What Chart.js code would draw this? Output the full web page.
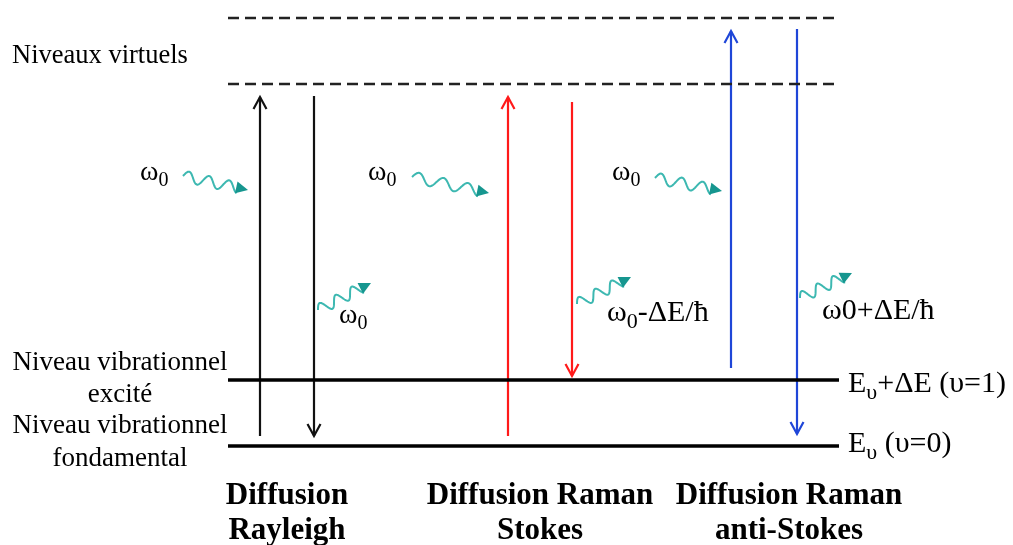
<!DOCTYPE html>
<html>
<head>
<meta charset="utf-8">
<script src="https://cdn.jsdelivr.net/npm/chart.js@4/dist/chart.umd.min.js"></script>
<style>
  html, body { margin: 0; padding: 0; background: #fff; }
  #wrap { width: 1013px; height: 545px; position: relative; }
</style>
</head>
<body>
<div id="wrap"><canvas id="ramanChart"></canvas></div>
<script>
// energy levels (y in diagram units, 0 at top)
const virtualLevels = [18, 84];
const vibLevels = [380, 446];
const levelSpan = [228, 839];

// vertical transitions
const transitionX = [260, 314, 508, 572, 731, 797];
const transitionFrom = [436, 96, 436, 102, 368, 29];
const transitionTo = [97, 436, 97, 376, 31, 434];
const transitionColors = ['#111', '#111', '#ff1a1a', '#ff1a1a', '#1f46d8', '#1f46d8'];

// photons (wavy arrows)
const photonStart = [[183, 176], [318, 310], [412, 177], [577, 304], [655, 178], [800, 298]];
const photonEnd = [[248, 190], [371, 283], [489, 193], [631, 277], [722, 191], [852, 273]];
const photonLabels = ['ω_0', 'ω_0', 'ω_0', 'ω_0-ΔE/ħ', 'ω_0', 'ω0+ΔE/ħ'];
const photonLabelPos = [[140, 180], [339, 323], [368, 180], [607, 321], [612, 180], [822, 319]];

// text labels
const levelLabels = ['E_υ+ΔE (υ=1)', 'E_υ (υ=0)'];
const leftLabels = ['Niveau vibrationnel', 'excité', 'Niveau vibrationnel', 'fondamental'];
const leftLabelY = [370, 402, 433, 466];
const processNames = [['Diffusion', 'Rayleigh'], ['Diffusion Raman', 'Stokes'], ['Diffusion Raman', 'anti-Stokes']];
const processX = [287, 540, 789];

const serif = "'Liberation Serif', 'Times New Roman', serif";
const waveColor = '#3db8b1';
const waveHeadColor = '#16968f';

function drawRich(ctx, str, x, y, size, align) {
    // '_' makes the next character a subscript
    const parts = [];
    for (let i = 0; i < str.length; i++) {
        if (str[i] === '_') { parts.push({ t: str[i + 1], sub: true }); i++; }
        else parts.push({ t: str[i], sub: false });
    }
    const fontFor = p => (p.sub ? Math.round(size * 0.72) : size) + 'px ' + serif;
    let total = 0;
    parts.forEach(p => { ctx.font = fontFor(p); total += ctx.measureText(p.t).width; });
    let cx = align === 'center' ? x - total / 2 : x;
    ctx.textAlign = 'left';
    ctx.textBaseline = 'alphabetic';
    parts.forEach(p => {
        ctx.font = fontFor(p);
        ctx.fillText(p.t, cx, p.sub ? y + size * 0.22 : y);
        cx += ctx.measureText(p.t).width;
    });
}

function drawWave(ctx, a, b) {
    const dx = b.x - a.x, dy = b.y - a.y;
    const len = Math.hypot(dx, dy);
    const ux = dx / len, uy = dy / len;
    const nx = -uy, ny = ux;
    const head = 12;
    const body = len - head + 2;
    ctx.save();
    ctx.strokeStyle = waveColor;
    ctx.lineWidth = 2;
    ctx.lineJoin = 'round';
    ctx.beginPath();
    for (let s = 0; s <= body; s += 0.5) {
        const off = -5.5 * Math.sin(s / body * 2.75 * 2 * Math.PI);
        const px = a.x + ux * s + nx * off;
        const py = a.y + uy * s + ny * off;
        if (s === 0) ctx.moveTo(px, py); else ctx.lineTo(px, py);
    }
    ctx.stroke();
    const bx = b.x - ux * head, by = b.y - uy * head;
    ctx.fillStyle = waveHeadColor;
    ctx.beginPath();
    ctx.moveTo(b.x, b.y);
    ctx.lineTo(bx + nx * 6, by + ny * 6);
    ctx.lineTo(bx - nx * 6, by - ny * 6);
    ctx.closePath();
    ctx.fill();
    ctx.restore();
}

const diagramPlugin = {
    id: 'diagram',
    afterDatasetsDraw(chart) {
        const ctx = chart.ctx;
        const xs = chart.scales.x, ys = chart.scales.y;
        const pt = p => ({ x: xs.getPixelForValue(p[0]), y: ys.getPixelForValue(p[1]) });

        // arrow heads on transitions
        chart.data.datasets.forEach((ds, i) => {
            if (!ds.arrow) return;
            const pts = chart.getDatasetMeta(i).data;
            const a = pts[0], b = pts[pts.length - 1];
            const len = Math.hypot(b.x - a.x, b.y - a.y);
            const ux = (b.x - a.x) / len, uy = (b.y - a.y) / len;
            ctx.save();
            ctx.strokeStyle = ds.borderColor;
            ctx.lineWidth = 2.2;
            ctx.beginPath();
            ctx.moveTo(b.x - ux * 12 - uy * 6.5, b.y - uy * 12 + ux * 6.5);
            ctx.lineTo(b.x, b.y);
            ctx.lineTo(b.x - ux * 12 + uy * 6.5, b.y - uy * 12 - ux * 6.5);
            ctx.stroke();
            ctx.restore();
        });

        // photons
        photonStart.forEach((s, i) => drawWave(ctx, pt(s), pt(photonEnd[i])));

        ctx.save();
        ctx.fillStyle = '#000';
        photonLabels.forEach((t, i) => {
            const p = pt(photonLabelPos[i]);
            drawRich(ctx, t, p.x, p.y, t.length > 3 ? 30 : 28, 'left');
        });

        // level labels
        vibLevels.forEach((lv, i) => {
            drawRich(ctx, levelLabels[i], xs.getPixelForValue(levelSpan[1] + 9), ys.getPixelForValue(lv + [12, 6][i]), 30, 'left');
        });
        drawRich(ctx, 'Niveaux virtuels', xs.getPixelForValue(12), ys.getPixelForValue(63), 26.5, 'left');
        leftLabels.forEach((t, i) => {
            drawRich(ctx, t, xs.getPixelForValue(120), ys.getPixelForValue(leftLabelY[i]), 27, 'center');
        });

        // process names
        ctx.textAlign = 'center';
        ctx.font = 'bold 31px ' + serif;
        processNames.forEach((lines, i) => {
            ctx.fillText(lines[0], xs.getPixelForValue(processX[i]), ys.getPixelForValue(504));
            ctx.fillText(lines[1], xs.getPixelForValue(processX[i]), ys.getPixelForValue(539));
        });
        ctx.restore();
    }
};

const datasets = [];
virtualLevels.forEach(y => datasets.push({
    data: [{ x: levelSpan[0], y: y }, { x: levelSpan[1], y: y }],
    borderColor: '#222', borderWidth: 2.5, borderDash: [11, 6]
}));
vibLevels.forEach(y => datasets.push({
    data: [{ x: levelSpan[0], y: y }, { x: levelSpan[1], y: y }],
    borderColor: '#000', borderWidth: 3.5
}));
transitionX.forEach((x, i) => datasets.push({
    data: [{ x: x, y: transitionFrom[i] }, { x: x, y: transitionTo[i] }],
    borderColor: transitionColors[i], borderWidth: 2.2, arrow: true
}));

new Chart(document.getElementById('ramanChart').getContext('2d'), {
    type: 'scatter',
    data: { datasets: datasets.map(d => Object.assign({ showLine: true, pointRadius: 0, clip: false }, d)) },
    options: {
        responsive: true,
        maintainAspectRatio: false,
        animation: false,
        layout: { padding: 0 },
        scales: {
            x: { type: 'linear', min: 0, max: 1013, display: false },
            y: { type: 'linear', min: 0, max: 545, reverse: true, display: false }
        },
        plugins: {
            legend: { display: false },
            tooltip: { enabled: false }
        }
    },
    plugins: [diagramPlugin]
});
</script>
</body>
</html>
